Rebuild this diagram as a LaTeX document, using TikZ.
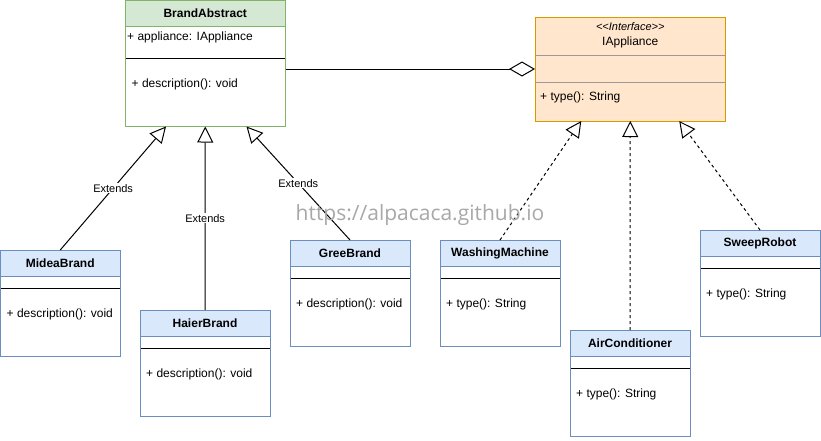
\documentclass[tikz,border=0pt]{standalone}
\usepackage{fontspec}
\setmainfont{Liberation Sans}
\newfontfamily\wmfont{Open Sans}
\usetikzlibrary{arrows.meta,calc}
\definecolor{bluefill}{HTML}{DAE8FC}
\definecolor{blueline}{HTML}{6C8EBF}
\definecolor{greenfill}{HTML}{D5E8D4}
\definecolor{greenline}{HTML}{82B366}
\definecolor{orfill}{HTML}{FFE6CC}
\definecolor{orline}{HTML}{D79B00}
\definecolor{sepgray}{HTML}{999999}
\definecolor{wmgray}{HTML}{A8A8A8}
\tikzset{
  shell/.style={draw=none, fill=white, inner sep=0pt, outer sep=0pt, anchor=north west},
  ctitle/.style={inner sep=0pt, font=\bfseries\fontsize{12}{14}\selectfont},
  cmember/.style={inner sep=0pt, anchor=west, font=\fontsize{12}{14}\selectfont},
  lbl/.style={fill=white, inner sep=1pt, font=\fontsize{11}{13}\selectfont},
  ext/.style={line width=1pt, -{Triangle[length=16pt,width=16pt,fill=white]}},
  impl/.style={line width=1pt, dash pattern=on 3pt off 3pt, -{Triangle[length=16pt,width=16pt,fill=white]}},
  agg/.style={line width=1pt, -{Diamond[length=26pt,width=15pt,fill=white]}},
  wm/.style={inner sep=0pt, text=wmgray, font=\wmfont\fontsize{21}{24}\selectfont}
}
% name, x, y, w, h, fill, line, title, member
\newcommand{\umlclass}[9]{%
  \node[shell, minimum width=#4pt, minimum height=#5pt] (#1) at (#2,#3) {};
  \fill[#6] (#1.north west) rectangle ([yshift=-26pt]#1.north east);
  \draw[#7, line width=1pt] ([yshift=-26pt]#1.north west) -- ([yshift=-26pt]#1.north east);
  \draw[black, line width=1pt] ([yshift=-38pt]#1.north west) -- ([yshift=-38pt]#1.north east);
  \node[ctitle] (#1-t) at ([yshift=-13pt]#1.north) {#8};
  \node[cmember] (#1-m) at ([xshift=6pt,yshift=-64pt]#1.north west) {#9};
  \draw[#7, line width=1pt] (#1.north west) rectangle (#1.south east);
}
\begin{document}
\begin{tikzpicture}[x=1pt,y=-1pt]
\useasboundingbox[fill=white] (0,0) rectangle (821,440);

% BrandAbstract
\node[shell, minimum width=160.5pt, minimum height=126pt] (brand) at (125,0.5) {};
\fill[greenfill] (brand.north west) rectangle ([yshift=-26pt]brand.north east);
\draw[greenline, line width=1pt] ([yshift=-26pt]brand.north west) -- ([yshift=-26pt]brand.north east);
\draw[black, line width=1pt] ([yshift=-58pt]brand.north west) -- ([yshift=-58pt]brand.north east);
\node[ctitle] (brand-t) at ([yshift=-13pt]brand.north) {BrandAbstract};
\node[cmember] (brand-a) at ([xshift=2pt,yshift=-37pt]brand.north west) {+ appliance: IAppliance};
\node[cmember] (brand-m) at ([xshift=6.5pt,yshift=-84pt]brand.north west) {+ description(): void};
\draw[greenline, line width=1pt] (brand.north west) rectangle (brand.south east);

% IAppliance
\node[shell, fill=orfill, minimum width=190.5pt, minimum height=104pt] (iapp) at (535,17) {};
\draw[sepgray, line width=1pt] ([yshift=-38pt]iapp.north west) -- ([yshift=-38pt]iapp.north east);
\draw[sepgray, line width=1pt] ([yshift=-65pt]iapp.north west) -- ([yshift=-65pt]iapp.north east);
\node[inner sep=0pt, font=\itshape\fontsize{11}{13}\selectfont] (iapp-s) at ([yshift=-10pt]iapp.north) {{<}{<}Interface{>}{>}};
\node[inner sep=0pt, font=\fontsize{12}{14}\selectfont] (iapp-t) at ([yshift=-25pt]iapp.north) {IAppliance};
\node[cmember] (iapp-m) at ([xshift=5pt,yshift=-80pt]iapp.north west) {+ type(): String};
\draw[orline, line width=1pt] (iapp.north west) rectangle (iapp.south east);

% concrete classes
\umlclass{midea}{0.5}{250}{119.5}{106}{bluefill}{blueline}{MideaBrand}{+ description(): void}
\umlclass{haier}{140}{310}{130}{106}{bluefill}{blueline}{HaierBrand}{+ description(): void}
\umlclass{gree}{290}{240}{120}{106}{bluefill}{blueline}{GreeBrand}{+ description(): void}
\umlclass{wash}{440}{240}{120}{106}{bluefill}{blueline}{WashingMachine}{+ type(): String}
\umlclass{air}{570}{330}{120}{106}{bluefill}{blueline}{AirConditioner}{+ type(): String}
\umlclass{sweep}{700}{230}{120}{106}{bluefill}{blueline}{SweepRobot}{+ type(): String}

% tips
\coordinate (tipM) at ($(brand.south west)+(41,0)$);
\coordinate (tipG) at ($(brand.south east)+(-39,0)$);
\coordinate (tipW) at ($(iapp.south)+(-49,0)$);
\coordinate (tipS) at ($(iapp.south)+(49,0)$);

% aggregation
\draw[agg] (iapp.west -| brand.east) -- (iapp.west);

% extends
\draw[ext] (midea.north) -- node[lbl] (lblM) {Extends} (tipM);
\draw[ext] (haier.north) -- node[lbl] (lblH) {Extends} (brand.south);
\draw[ext] (gree.north) -- node[lbl] (lblG) {Extends} (tipG);

% implementations
\draw[impl] (wash.north) -- (tipW);
\draw[impl] (air.north) -- (iapp.south);
\draw[impl] (sweep.north) -- (tipS);

% watermark
\node[wm] (wmark) at (420,215) {https://alpacaca.github.io};
\end{tikzpicture}
\end{document}
